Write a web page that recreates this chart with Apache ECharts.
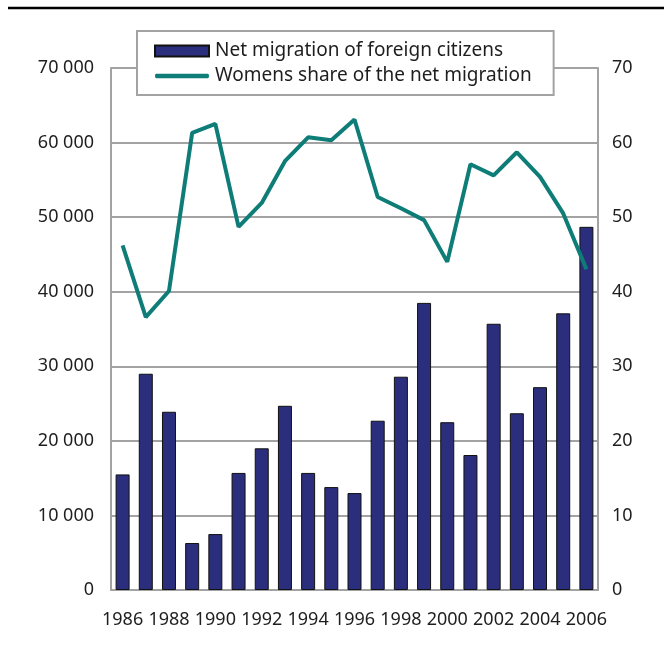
<!DOCTYPE html>
<html>
<head>
<meta charset="utf-8">
<script src="https://cdn.jsdelivr.net/npm/echarts@6/dist/echarts.min.js"></script>
<style>
  html, body { margin: 0; padding: 0; background: #fff; }
  #chart { width: 664px; height: 651px; }
</style>
</head>
<body>
<div id="chart"></div>
<script>
var years = ["1986", "1987", "1988", "1989", "1990", "1991", "1992", "1993", "1994", "1995", "1996",
             "1997", "1998", "1999", "2000", "2001", "2002", "2003", "2004", "2005", "2006"];
var netMigration = [15500, 29000, 23900, 6300, 7500, 15700, 19000, 24700, 15700, 13800, 13000,
                    22700, 28600, 38500, 22500, 18100, 35700, 23700, 27200, 37100, 48700];
var womenShare = [46.2, 36.6, 40.1, 61.3, 62.5, 48.7, 51.9, 57.5, 60.7, 60.3, 63.1,
                  52.7, 51.2, 49.6, 44.0, 57.1, 55.6, 58.7, 55.4, 50.5, 43.0];

var gray = "#a3a3a3";
var textColor = "#1e1e1e";
var font = "Noto Sans";

var chart = echarts.init(document.getElementById("chart"));
var option = {
    backgroundColor: "#fff",
    animation: false,
    textStyle: { fontFamily: font },
    graphic: [{
        type: "line",
        shape: { x1: 8, y1: 8, x2: 664, y2: 8 },
        style: { stroke: "#000", lineWidth: 2.5 }
    }],
    grid: { left: 111, right: 66, top: 68, bottom: 61 },
    legend: {
        orient: "vertical",
        left: 137,
        top: 31,
        padding: [9, 22, 8, 17],
        itemGap: 3,
        itemWidth: 54,
        itemHeight: 11,
        backgroundColor: "#fff",
        borderColor: gray,
        borderWidth: 2,
        textStyle: { fontSize: 19, lineHeight: 22, color: textColor, fontFamily: font, padding: [0, 0, 0, 1] },
        data: [
            { name: "Net migration of foreign citizens", icon: "rect" },
            { name: "Womens share of the net migration", icon: "path://M2,0 L98,0 Q100,0 100,4 Q100,8 98,8 L2,8 Q0,8 0,4 Q0,0 2,0 Z" }
        ]
    },
    xAxis: {
        type: "category",
        data: years,
        axisLine: { lineStyle: { color: gray, width: 2 } },
        axisTick: { inside: true, length: 5, lineStyle: { color: gray, width: 1.5 } },
        axisLabel: { interval: 1, fontSize: 18, color: textColor, margin: 21 }
    },
    yAxis: [{
        type: "value",
        min: 0,
        max: 70000,
        interval: 10000,
        axisLine: { show: true, lineStyle: { color: gray, width: 2 } },
        axisTick: { show: true, inside: true, length: 6, lineStyle: { color: gray, width: 2 } },
        splitLine: { lineStyle: { color: gray, width: 2 } },
        axisLabel: {
            fontSize: 18, color: textColor, margin: 17,
            formatter: function (v) {
                return String(v).replace(/\B(?=(\d{3})+(?!\d))/g, " ");
            }
        }
    }, {
        type: "value",
        min: 0,
        max: 70,
        interval: 10,
        position: "right",
        axisLine: { show: true, lineStyle: { color: gray, width: 2 } },
        axisTick: { show: true, inside: true, length: 6, lineStyle: { color: gray, width: 2 } },
        splitLine: { show: false },
        axisLabel: { fontSize: 18, color: textColor, margin: 14 }
    }],
    series: [{
        name: "Net migration of foreign citizens",
        type: "bar",
        data: netMigration,
        barWidth: 14,
        itemStyle: { color: "#2b2e7c", borderColor: "#111", borderWidth: 1 }
    }, {
        name: "Womens share of the net migration",
        type: "line",
        yAxisIndex: 1,
        data: womenShare,
        symbol: "none",
        lineStyle: { color: "#0e7c77", width: 4 },
        itemStyle: { color: "#0e7c77" }
    }]
};
chart.setOption(option);
</script>
</body>
</html>
